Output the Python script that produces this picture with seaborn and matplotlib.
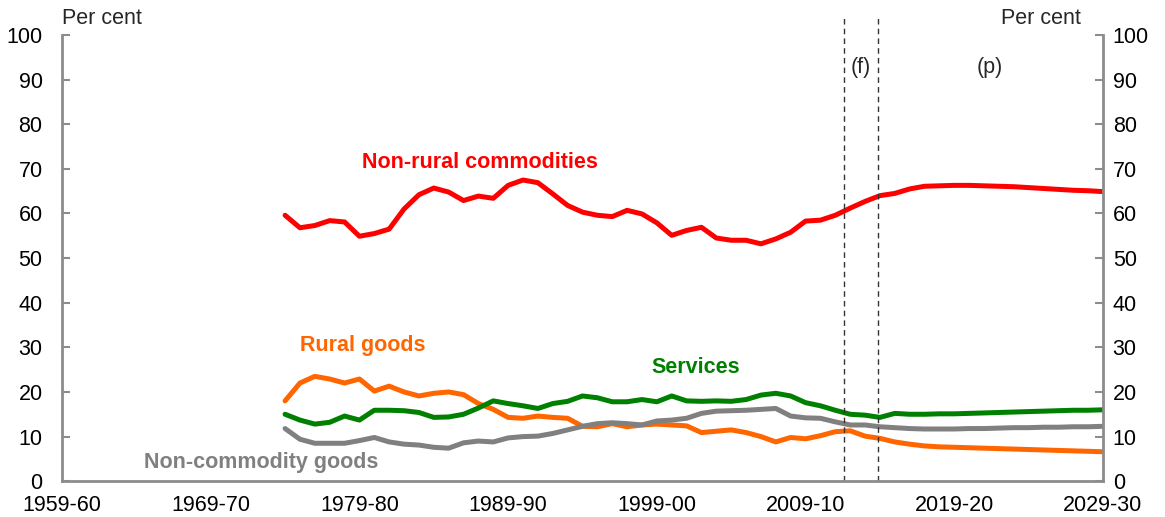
import numpy as np
import pandas as pd
import matplotlib
matplotlib.use("Agg")
import matplotlib.pyplot as plt
import seaborn as sns

# ---- data ----
years = list(range(1974, 2030))  # fiscal year start (1974-75 ... 2029-30)
non_rural = [59.6, 56.8, 57.3, 58.4, 58.1, 54.9, 55.5, 56.5, 61.0, 64.2,
             65.7, 64.8, 62.9, 63.9, 63.4, 66.3, 67.5, 66.9, 64.4, 61.8,
             60.3, 59.6, 59.3, 60.7, 59.9, 57.9, 55.1, 56.2, 56.9, 54.5,
             54.0, 54.0, 53.2, 54.3, 55.8, 58.3, 58.5, 59.6, 61.2, 62.7,
             64.0, 64.5, 65.5, 66.1, 66.2, 66.3, 66.3, 66.2, 66.1, 66.0,
             65.8, 65.6, 65.4, 65.2, 65.1, 64.9]
rural = [18.0, 22.0, 23.5, 22.9, 22.0, 22.9, 20.2, 21.3, 20.0, 19.1,
         19.7, 20.0, 19.4, 17.4, 16.1, 14.3, 14.1, 14.6, 14.3, 14.1,
         12.3, 12.2, 12.9, 12.2, 12.6, 12.8, 12.6, 12.4, 10.9, 11.2,
         11.5, 10.9, 10.0, 8.8, 9.8, 9.5, 10.2, 11.1, 11.3, 10.1,
         9.6, 8.8, 8.3, 7.9, 7.7, 7.6, 7.5, 7.4, 7.3, 7.2,
         7.1, 7.0, 6.9, 6.8, 6.7, 6.6]
services = [15.0, 13.7, 12.8, 13.2, 14.6, 13.7, 15.9, 15.9, 15.8, 15.4,
            14.3, 14.4, 15.0, 16.4, 18.0, 17.4, 16.9, 16.3, 17.4, 17.9,
            19.1, 18.7, 17.8, 17.8, 18.3, 17.8, 19.1, 18.0, 17.9, 18.0,
            17.9, 18.3, 19.3, 19.7, 19.1, 17.6, 16.9, 15.9, 15.0, 14.8,
            14.3, 15.2, 15.0, 15.0, 15.1, 15.1, 15.2, 15.3, 15.4, 15.5,
            15.6, 15.7, 15.8, 15.9, 15.9, 16.0]
non_commodity = [11.8, 9.4, 8.5, 8.5, 8.5, 9.1, 9.8, 8.8, 8.3, 8.1,
                 7.6, 7.4, 8.6, 9.0, 8.8, 9.7, 10.0, 10.1, 10.7, 11.5,
                 12.3, 12.9, 13.1, 12.9, 12.6, 13.5, 13.7, 14.1, 15.2, 15.7,
                 15.8, 15.9, 16.1, 16.3, 14.6, 14.2, 14.1, 13.3, 12.6, 12.6,
                 12.2, 12.0, 11.8, 11.7, 11.7, 11.7, 11.8, 11.8, 11.9, 12.0,
                 12.0, 12.1, 12.1, 12.2, 12.2, 12.3]
series_names = ["Non-rural commodities", "Rural goods", "Services", "Non-commodity goods"]
tick_years = [1959, 1969, 1979, 1989, 1999, 2009, 2019, 2029]
tick_labels = ["1959-60", "1969-70", "1979-80", "1989-90", "1999-00", "2009-10", "2019-20", "2029-30"]
y_ticks = list(range(0, 101, 10))
forecast_lines = [2011.6, 2013.9]

df = pd.concat([
    pd.DataFrame({"year": years, "value": v, "series": n})
    for n, v in zip(series_names, [non_rural, rural, services, non_commodity])
])

colors = {"Non-rural commodities": "#FF0000", "Rural goods": "#FF6600",
          "Services": "#008000", "Non-commodity goods": "#808080"}

sns.set_style("white")
plt.rcParams['font.family'] = ['Liberation Sans', 'DejaVu Sans']

fig = plt.figure(figsize=(11.65, 5.17), dpi=100)
ax = fig.add_axes([62/1165, 1-481.2/517, (1103-62)/1165, (481.2-35)/517])

sns.lineplot(data=df, x="year", y="value", hue="series", palette=colors,
             linewidth=3.6, legend=False, ax=ax, sort=True)

top_ext = (481.2 - 18) / (481.2 - 35)
for xv in forecast_lines:
    ax.axvline(xv, ymin=0, ymax=top_ext, color="#333333",
               linestyle=(0, (4, 3)), linewidth=1.0, clip_on=False)

ax.set_xlim(1959, 2029)
ax.set_ylim(0, 100)
ax.set_xticks(tick_years)
ax.set_xticklabels(tick_labels)
ax.set_yticks(y_ticks)
ax.set_xlabel("")
ax.set_ylabel("")

fs = 15.5
spine_c = "#8C8C8C"
for s in ["left", "bottom", "right"]:
    ax.spines[s].set_color(spine_c)
    ax.spines[s].set_linewidth(2)
ax.spines["top"].set_visible(False)
ax.tick_params(axis="x", direction="in", length=6, width=1.5, color=spine_c,
               labelsize=fs, pad=10, labelcolor="black")
ax.tick_params(axis="y", direction="in", length=6, width=1.5, color=spine_c,
               labelsize=fs, pad=14, labelcolor="black")

ax2 = ax.twinx()
ax2.set_ylim(0, 100)
ax2.set_yticks(y_ticks)
for s in ["left", "bottom", "right", "top"]:
    ax2.spines[s].set_visible(False)
ax2.tick_params(axis="y", direction="in", length=6, width=1.5, color=spine_c,
                labelsize=fs, pad=7, labelcolor="black")

# texts
fig.text(62/1165, 1-18/517, "Per cent", fontsize=fs, ha="left", va="center")
fig.text(1081/1165, 1-18/517, "Per cent", fontsize=fs, ha="right", va="center")
ax.text(2012.7, 92.7, "(f)", fontsize=fs, ha="center", va="center")
ax.text(2021.4, 92.7, "(p)", fontsize=fs, ha="center", va="center")
ax.text(1987.1, 71.4, "Non-rural commodities", color="#FF0000", fontsize=fs,
        fontweight="bold", ha="center", va="center")
ax.text(1979.2, 30.4, "Rural goods", color="#FF6600", fontsize=fs,
        fontweight="bold", ha="center", va="center")
ax.text(2001.6, 25.4, "Services", color="#008000", fontsize=fs,
        fontweight="bold", ha="center", va="center")
ax.text(1972.4, 4.3, "Non-commodity goods", color="#808080", fontsize=fs,
        fontweight="bold", ha="center", va="center")

fig.savefig("out.png", dpi=100)
